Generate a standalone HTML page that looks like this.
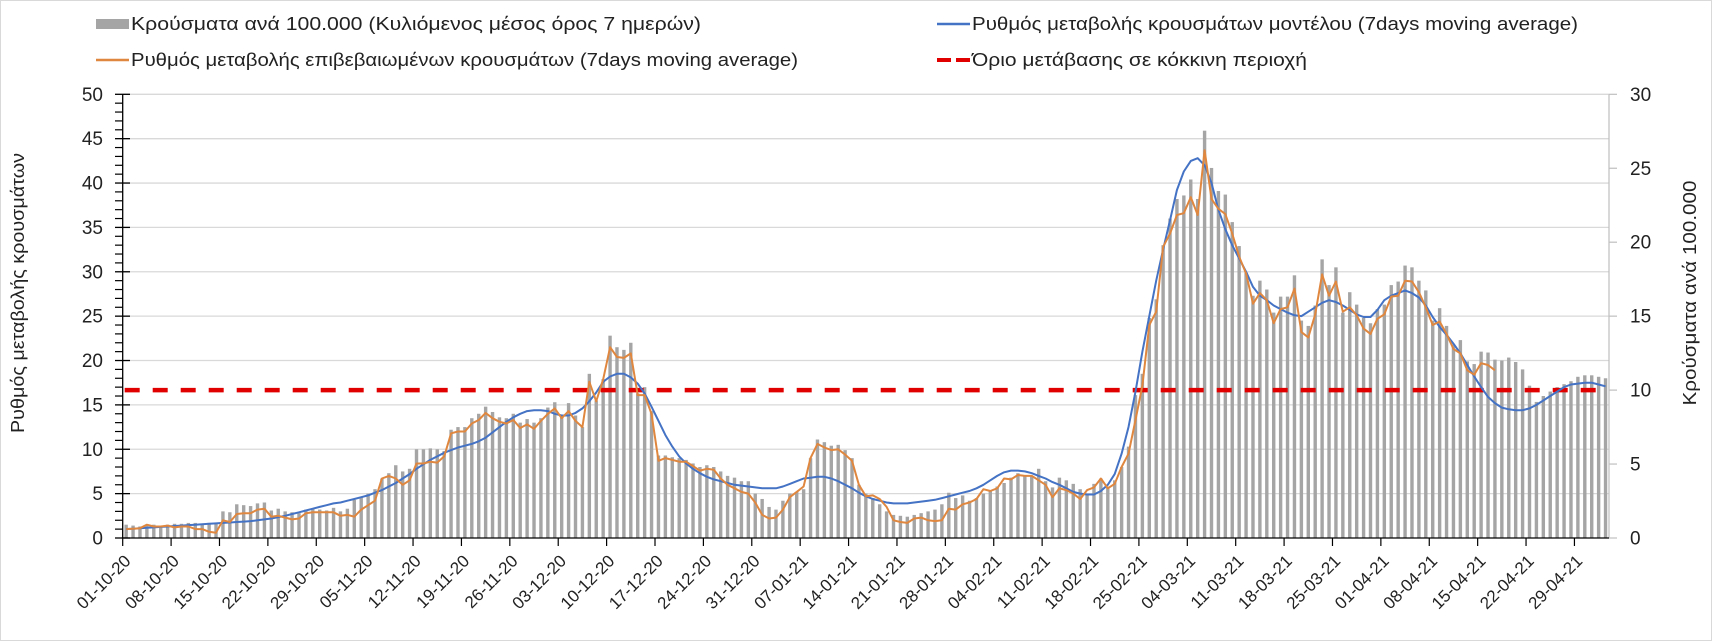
<!DOCTYPE html>
<html><head><meta charset="utf-8"><style>
html,body{margin:0;padding:0;background:#fff}
svg{display:block;font-family:"Liberation Sans","DejaVu Sans",sans-serif}
</style></head><body>
<svg id="chart" width="1712" height="641" viewBox="0 0 1712 641" xmlns="http://www.w3.org/2000/svg">
<rect x="0.5" y="0.5" width="1711" height="640" fill="#fff" stroke="#d9d9d9"/>
<g id="grid"></g>
<g id="bars"></g>
<g id="lines"></g>
<g id="axes"></g>
<g font-size="18" fill="#222">
  <g>
    <rect x="96" y="19" width="33" height="10" fill="#a5a5a5"/>
    <text x="131" y="30" textLength="570" lengthAdjust="spacingAndGlyphs">Κρούσματα ανά 100.000 (Κυλιόμενος μέσος όρος 7 ημερών)</text>
  </g>
  <g>
    <line x1="96" y1="60" x2="129" y2="60" stroke="#e0873f" stroke-width="2.5"/>
    <text x="131" y="66" textLength="667" lengthAdjust="spacingAndGlyphs">Ρυθμός μεταβολής επιβεβαιωμένων κρουσμάτων (7days moving average)</text>
  </g>
  <g>
    <line x1="937" y1="24" x2="970" y2="24" stroke="#4472c4" stroke-width="2.5"/>
    <text x="972" y="30" textLength="606" lengthAdjust="spacingAndGlyphs">Ρυθμός μεταβολής κρουσμάτων μοντέλου (7days moving average)</text>
  </g>
  <g>
    <line x1="937" y1="60" x2="970" y2="60" stroke="#e00000" stroke-width="4" stroke-dasharray="14 5"/>
    <text x="972" y="66" textLength="335" lengthAdjust="spacingAndGlyphs">Όριο μετάβασης σε κόκκινη περιοχή</text>
  </g>
</g>
<text transform="translate(24,293) rotate(-90)" text-anchor="middle" font-size="18" fill="#222" textLength="280" lengthAdjust="spacingAndGlyphs">Ρυθμός μεταβολής κρουσμάτων</text>
<text transform="translate(1696,293) rotate(-90)" text-anchor="middle" font-size="18" fill="#222" textLength="225" lengthAdjust="spacingAndGlyphs">Κρούσματα ανά 100.000</text>
</svg>
<script>
const bars = [0.9,0.84,0.78,0.9,0.9,0.84,0.9,0.96,0.96,1.02,1.02,0.96,1.02,0.96,
1.8,1.74,2.28,2.22,2.16,2.34,2.4,
1.86,1.98,1.8,1.74,1.68,1.92,1.98,1.92,1.86,2.04,1.8,1.98,
2.58,2.76,3.0,3.3,
4.02,4.38,4.92,4.5,4.68,6.0,6.0,6.06,6.0,5.88,7.32,7.5,7.5,8.1,8.4,8.88,8.52,8.16,8.1,8.4,7.8,8.04,7.8,8.1,8.82,9.18,
8.28,9.12,8.28,7.5,
11.1,9.3,10.74,13.68,12.9,12.72,13.2,9.78,10.2,8.58,
5.58,5.58,5.46,5.4,5.28,5.04,4.8,4.92,4.8,4.5,4.2,4.08,3.84,3.84,3.0,2.64,
2.1,1.92,2.52,3.0,3.12,3.3,
5.4,6.66,6.48,6.24,6.3,5.94,5.4,3.6,
3.0,2.7,2.28,1.8,1.56,1.5,1.44,1.56,1.68,1.8,1.92,2.28,
3.06,2.7,2.88,2.52,2.7,3.0,3.18,
3.48,3.72,4.08,4.38,4.2,4.2,
4.68,3.84,3.42,4.08,3.9,3.66,3.3,3.0,3.66,4.02,3.48,3.9,4.8,6.18,
9.66,11.1,14.88,16.14,19.8,21.6,22.92,23.16,24.24,22.92,27.54,25.02,23.46,23.22,21.36,19.74,17.94,16.38,17.4,16.8,15.24,16.32,16.32,17.76,14.7,14.34,15.72,18.84,17.1,18.3,15.24,16.62,15.78,14.88,14.52,15.48,15.78,17.1,17.34,18.42,18.3,17.4,16.74,14.7,15.54,14.34,13.08,13.38,11.94,11.76,12.6,12.54,12.06,
12.0,12.2,11.9,11.4,10.3,9.2,9.6,9.9,10.2,10.4,10.6,10.9,11.0,11.0,10.9,10.8];
const modelRate = [1.0,1.05,1.1,1.15,1.2,1.25,1.3,1.35,1.4,1.45,1.5,1.55,1.6,1.65,
1.7,1.75,1.8,1.85,1.9,2.0,2.1,2.2,2.35,2.5,2.7,2.9,3.1,3.3,
3.5,3.7,3.9,4.0,4.2,4.4,4.6,4.8,5.1,5.4,5.8,6.2,6.7,7.2,
7.8,8.3,8.8,9.2,9.6,9.9,10.2,10.4,10.6,10.9,11.3,11.9,12.5,13.1,
13.6,14.0,14.3,14.4,14.4,14.3,14.0,13.8,13.8,14.1,14.6,15.4,16.4,17.6,
18.2,18.5,18.5,18.1,17.4,16.3,14.8,13.2,11.6,10.3,9.2,8.4,7.8,7.3,
6.9,6.6,6.4,6.2,6.0,5.9,5.8,5.7,5.6,5.6,5.6,5.8,6.1,6.4,
6.7,6.8,6.9,6.9,6.7,6.4,6.0,5.6,5.1,4.7,4.4,4.2,4.0,3.9,
3.9,3.9,4.0,4.1,4.2,4.3,4.5,4.7,4.9,5.1,5.3,5.6,6.0,6.5,
7.0,7.4,7.6,7.6,7.5,7.3,7.0,6.7,6.3,6.0,5.6,5.2,5.0,4.9,
4.9,5.3,6.0,7.2,9.5,12.5,16.5,21.0,25.0,29.0,32.5,35.8,39.2,41.3,
42.5,42.8,42.0,40.0,37.0,34.8,33.0,31.5,30.0,28.3,27.3,26.8,26.2,25.8,
25.4,25.1,25.0,25.5,26.0,26.5,26.8,26.6,26.2,25.7,25.2,24.9,24.9,25.7,
26.8,27.3,27.6,27.9,27.6,27.1,26.2,24.9,23.8,22.9,21.9,20.8,19.5,18.2,
17.0,15.9,15.2,14.7,14.5,14.4,14.4,14.6,15.0,15.5,16.0,16.5,17.0,17.3,
17.4,17.5,17.5,17.3,17.1];
const confirmedRate = [1.0,1.05,1.1,1.5,1.3,1.3,1.4,1.2,1.3,1.3,1.0,1.0,0.7,0.6,
2.0,1.8,2.7,2.8,2.8,3.2,3.3,2.4,2.5,2.3,2.1,2.2,2.8,2.9,2.9,2.9,2.9,2.5,2.6,2.4,3.2,3.7,4.2,
6.7,7.0,6.7,6.0,6.5,8.4,8.4,8.6,8.5,9.2,11.8,12.0,12.0,12.9,13.3,14.1,13.5,13.1,12.9,13.3,12.4,12.8,12.3,13.2,14.0,14.6,13.5,14.3,13.2,
12.5,17.6,15.4,17.9,21.5,20.4,20.3,20.8,16.1,16.1,14.0,
8.7,9.0,8.8,8.6,8.6,8.1,7.6,7.8,7.7,6.7,6.0,5.6,5.2,5.0,
4.0,2.6,2.2,2.3,3.2,4.6,5.2,5.8,
9.0,10.6,10.2,9.9,10.0,9.4,8.7,6.0,4.7,4.8,4.4,3.5,2.0,1.8,1.7,2.2,2.3,2.0,1.9,2.0,
3.3,3.2,3.8,4.0,4.4,5.5,5.3,5.6,6.7,6.6,7.1,7.0,7.0,6.5,
6.0,4.6,5.6,5.4,5.0,4.4,5.4,5.7,6.7,5.6,6.1,8.0,9.5,
13.3,17.2,24.0,25.5,32.8,34.3,36.4,36.6,38.4,36.4,43.7,38.2,37.1,36.5,34.3,31.7,29.8,26.4,27.6,26.8,24.2,25.8,26.0,28.1,23.2,22.6,25.2,29.7,27.3,28.9,25.5,26.0,25.1,23.6,23.0,24.7,25.2,27.2,27.3,29.0,28.9,27.7,26.0,24.0,24.4,23.0,21.3,20.8,18.9,18.4,19.7,19.5,18.9];
const thresholdValue = 10;
const leftTicks = [0,5,10,15,20,25,30,35,40,45,50];
const rightTicks = [0,5,10,15,20,25,30];
const dateLabels = ['01-10-20','08-10-20','15-10-20','22-10-20','29-10-20','05-11-20','12-11-20','19-11-20','26-11-20','03-12-20','10-12-20','17-12-20','24-12-20','31-12-20','07-01-21','14-01-21','21-01-21','28-01-21','04-02-21','11-02-21','18-02-21','25-02-21','04-03-21','11-03-21','18-03-21','25-03-21','01-04-21','08-04-21','15-04-21','22-04-21','29-04-21'];

const NS='http://www.w3.org/2000/svg';
const X0=122.7, X1=1609, N=215, Y0=538, YT=94.3;
const step=(X1-X0)/N;
const xc=i=>X0+(i+0.5)*step;
const yL=v=>Y0-v*(Y0-YT)/50;
const yR=v=>Y0-v*(Y0-YT)/30;
function mk(tag,attrs,parent){const e=document.createElementNS(NS,tag);for(const k in attrs)e.setAttribute(k,attrs[k]);parent.appendChild(e);return e;}
const grid=document.getElementById('grid'),barsG=document.getElementById('bars'),linesG=document.getElementById('lines'),axes=document.getElementById('axes');

leftTicks.forEach(v=>{
  if(v>0){const g=mk('line',{x1:X0,x2:X1,y1:yL(v),y2:yL(v),stroke:'#d9d9d9','stroke-width':1.3},grid);
  
  }
  const t=mk('text',{x:103,y:yL(v)+6.5,'text-anchor':'end','font-size':19,fill:'#222'},axes);
  t.textContent=v;
  
  
  mk('line',{x1:115,x2:130,y1:yL(v),y2:yL(v),stroke:'#000','stroke-width':1.3},axes);
});
for(let v=1;v<50;v++){ if(v%5) mk('line',{x1:115,x2:X0,y1:yL(v),y2:yL(v),stroke:'#000','stroke-width':1.2},axes); }
rightTicks.forEach(v=>{
  const t=mk('text',{x:1630,y:yR(v)+6.5,'font-size':19,fill:'#222'},axes);
  t.textContent=v;
  
  
  mk('line',{x1:X1,x2:X1+8,y1:yR(v),y2:yR(v),stroke:'#bfbfbf','stroke-width':1.2},axes);
});

bars.forEach((v,i)=>{
  const r=mk('rect',{x:xc(i)-1.7,y:yR(v),width:3.4,height:Y0-yR(v),fill:'#a5a5a5'},barsG);
  
  
});

const th=mk('line',{x1:X0+2,x2:X1,y1:yR(thresholdValue),y2:yR(thresholdValue),stroke:'#e00000','stroke-width':4.5,'stroke-dasharray':'15 13'},linesG);



const mPts=modelRate.map((v,i)=>xc(i).toFixed(1)+','+yL(v).toFixed(1)).join(' ');
const ml=mk('polyline',{points:mPts,fill:'none',stroke:'#4472c4','stroke-width':2,'stroke-linejoin':'round'},linesG);


const cPts=confirmedRate.map((v,i)=>xc(i).toFixed(1)+','+yL(v).toFixed(1)).join(' ');
const cl=mk('polyline',{points:cPts,fill:'none',stroke:'#e0873f','stroke-width':2,'stroke-linejoin':'round'},linesG);



mk('line',{x1:X0,x2:X0,y1:YT,y2:Y0,stroke:'#000','stroke-width':1.3},axes);
mk('line',{x1:X1,x2:X1,y1:YT,y2:Y0,stroke:'#bfbfbf','stroke-width':1.2},axes);
mk('line',{x1:X0,x2:X1,y1:Y0,y2:Y0,stroke:'#000','stroke-width':1.3},axes);
dateLabels.forEach((lab,k)=>{
  const tx=X0+7*k*step;
  mk('line',{x1:tx,x2:tx,y1:Y0,y2:Y0+8,stroke:'#000','stroke-width':1.2},axes);
  const t=mk('text',{transform:`translate(${(tx+9).toFixed(1)},562) rotate(-45)`,'text-anchor':'end','font-size':17,fill:'#222'},axes);
  t.textContent=lab;
  
  
});
</script>
</body></html>
